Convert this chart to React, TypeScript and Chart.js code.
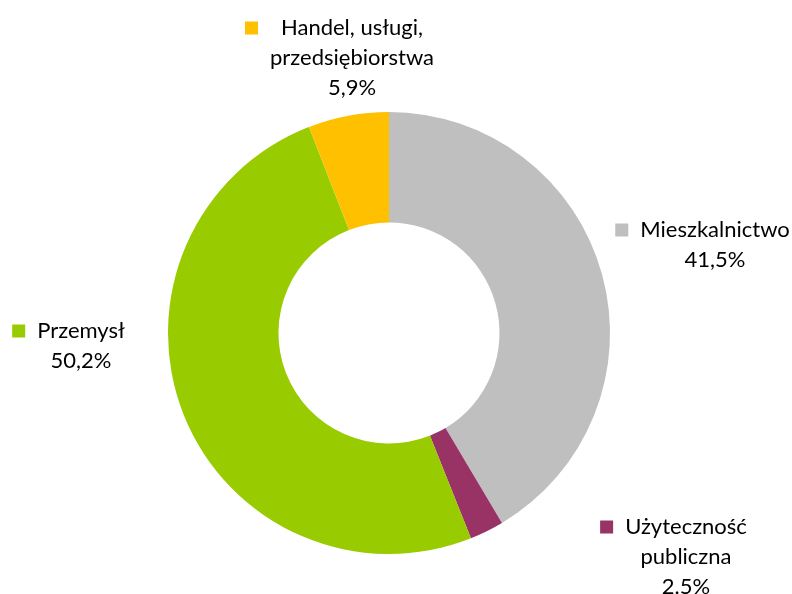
import React, { useEffect, useRef } from "react";
import { Chart, registerables } from "chart.js";

Chart.register(...registerables);

const categories = ["Mieszkalnictwo", "Użyteczność publiczna", "Przemysł", "Handel, usługi, przedsiębiorstwa"];
const values = [41.5, 2.5, 50.2, 5.9];
const valueLabels = ["41,5%", "2.5%", "50,2%", "5,9%"];
const labelLines = [["Mieszkalnictwo"], ["Użyteczność", "publiczna"], ["Przemysł"], ["Handel, usługi,", "przedsiębiorstwa"]];
const colors = ["#BFBFBF", "#993366", "#99CC00", "#FFC000"];

// label layout offsets relative to doughnut centre: [text centre x, first line centre y]
const labelOffsets = [
  [326, -103],
  [297, 194],
  [-308, -2],
  [-37, -305],
];

const FONT = "22px Lato, 'Open Sans', sans-serif";
const LINE_H = 30;
const KEY = 13;

const labelPlugin = {
  id: "outsideLabels",
  afterDraw(chart: any) {
    const ctx = chart.ctx;
    const meta = chart.getDatasetMeta(0);
    const arc0 = meta.data[0];
    if (!arc0) return;
    const cx = arc0.x;
    const cy = arc0.y;
    ctx.save();
    ctx.font = FONT;
    ctx.textAlign = "center";
    ctx.textBaseline = "middle";
    labelLines.forEach((lines, i) => {
      const all = [...lines, valueLabels[i]];
      const tx = cx + labelOffsets[i][0];
      const ty = cy + labelOffsets[i][1];
      let maxW = 0;
      all.forEach((l) => {
        maxW = Math.max(maxW, ctx.measureText(l).width);
      });
      ctx.fillStyle = colors[i];
      ctx.fillRect(tx - maxW / 2 - 12 - KEY, ty - KEY / 2, KEY, KEY);
      ctx.fillStyle = "#000000";
      all.forEach((l, j) => {
        ctx.fillText(l, tx, ty + j * LINE_H);
      });
    });
    ctx.restore();
  },
};

export default function App() {
  const ref = useRef<HTMLCanvasElement>(null);
  useEffect(() => {
    if (!ref.current) return;
    const chart = new Chart(ref.current, {
      type: "doughnut",
      data: {
        labels: categories,
        datasets: [
          {
            data: values,
            backgroundColor: colors,
            borderWidth: 0,
          },
        ],
      },
      options: {
        responsive: false,
        animation: false,
        cutout: "50%",
        layout: { padding: { left: 168, right: 182, top: 112, bottom: 40 } },
        plugins: {
          legend: { display: false },
          tooltip: { enabled: false },
        },
      },
      plugins: [labelPlugin],
    });
    return () => chart.destroy();
  }, []);
  return (
    <div style={{ position: "fixed", left: 0, top: 0, width: 792, height: 594, background: "#fff" }}>
      <canvas ref={ref} width={792} height={594} />
    </div>
  );
}
